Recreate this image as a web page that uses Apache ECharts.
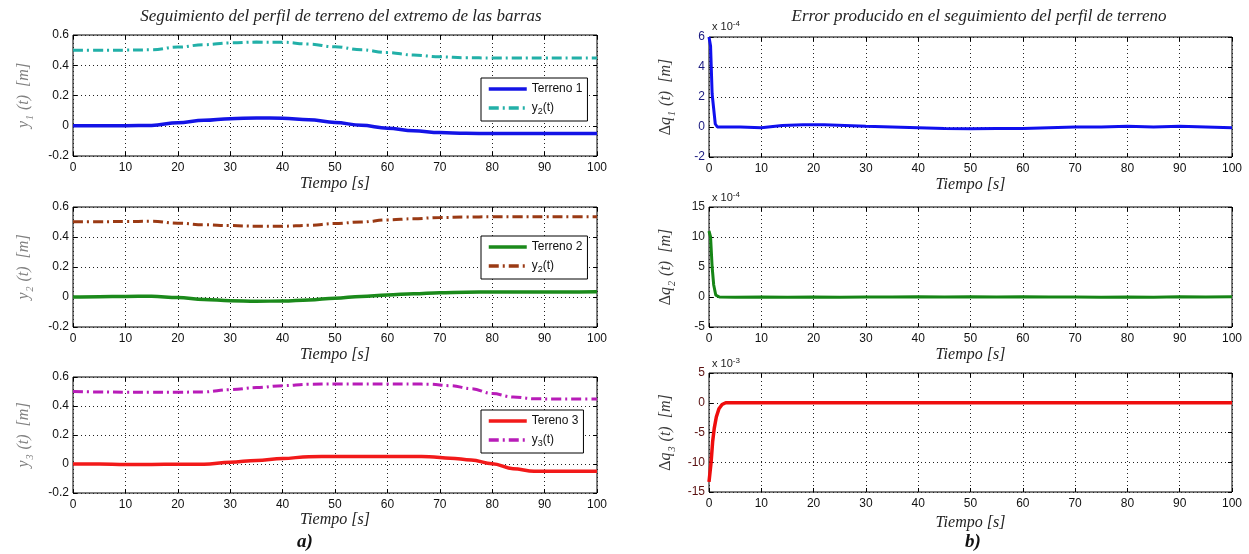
<!DOCTYPE html>
<html>
<head>
<meta charset="utf-8">
<script src="https://cdn.jsdelivr.net/npm/echarts/dist/echarts.min.js"></script>
<style>
  html, body { margin: 0; padding: 0; background: #fff; }
  #chart { width: 1249px; height: 554px; }
</style>
</head>
<body>
<div id="chart"></div>
<script>
// ---- Time samples [s] ----
const tA = [0, 5, 10, 15, 20, 25, 30, 35, 40, 45, 50, 55, 60, 65, 70, 75, 80, 85, 90, 95, 100];
const tC = [0, 5, 10, 15, 20, 25, 30, 35, 40, 45, 50, 55, 60, 65, 68, 72, 76, 80, 84, 88, 92, 96, 100];

// ---- Terrain profiles and bar-end trajectories [m] ----
const terreno1 = [0, 0, 0, 0.002, 0.02, 0.036, 0.047, 0.052, 0.05, 0.04, 0.022, 0.003, -0.016, -0.033, -0.045, -0.05, -0.052, -0.052, -0.052, -0.052, -0.052];
const y2Ref1   = [0.5, 0.5, 0.5, 0.502, 0.52, 0.536, 0.548, 0.553, 0.552, 0.54, 0.522, 0.502, 0.484, 0.467, 0.456, 0.45, 0.448, 0.448, 0.448, 0.448, 0.448];

const terreno2 = [0, 0.002, 0.004, 0.005, -0.004, -0.016, -0.025, -0.028, -0.027, -0.02, -0.008, 0.004, 0.014, 0.022, 0.029, 0.032, 0.034, 0.034, 0.034, 0.034, 0.035];
const y2Ref2   = [0.502, 0.502, 0.503, 0.505, 0.492, 0.482, 0.476, 0.472, 0.472, 0.478, 0.49, 0.5, 0.514, 0.522, 0.53, 0.533, 0.535, 0.535, 0.535, 0.535, 0.535];

const terreno3 = [0, 0, -0.003, -0.003, -0.002, -0.002, 0.012, 0.025, 0.038, 0.05, 0.052, 0.052, 0.052, 0.052, 0.05, 0.04, 0.028, 0.002, -0.032, -0.05, -0.05, -0.05, -0.05];
const y3Ref3   = [0.5, 0.497, 0.495, 0.495, 0.495, 0.497, 0.513, 0.527, 0.54, 0.55, 0.552, 0.552, 0.552, 0.552, 0.55, 0.54, 0.52, 0.486, 0.462, 0.45, 0.448, 0.448, 0.448];

// ---- Tracking errors (scaled: x1e-4, x1e-4, x1e-3) ----
const tQ1 = [0, 0.3, 0.6, 0.9, 1.2, 1.6, 3, 6, 10, 14, 18, 22, 26, 30, 35, 40, 45, 50, 55, 60, 65, 70, 75, 80, 85, 90, 95, 100];
const dq1 = [6, 5.4, 2.2, 1.2, 0.2, 0, 0, 0, -0.05, 0.1, 0.15, 0.15, 0.1, 0.05, 0, -0.05, -0.1, -0.12, -0.1, -0.1, -0.05, 0, 0, 0.05, 0, 0.05, 0, -0.05];

const tQ2 = [0, 0.3, 0.6, 0.9, 1.3, 2, 5, 10, 15, 20, 25, 30, 35, 40, 45, 50, 55, 60, 65, 70, 75, 80, 85, 90, 95, 100];
const dq2 = [11, 10, 5, 2, 0.3, 0, -0.05, 0, -0.05, 0, -0.05, 0, 0, 0.05, 0, 0.05, 0, 0.05, 0, 0, -0.05, 0, -0.05, 0.05, 0, 0.05];

const tQ3 = [0, 0.15, 0.4, 0.7, 1, 1.4, 1.9, 2.5, 3.2, 10, 20, 30, 40, 50, 60, 70, 80, 90, 100];
const dq3 = [-13.3, -13.3, -10, -6.5, -4.3, -2.4, -1, -0.3, 0, 0, 0, 0, 0, 0, 0, 0, 0, 0, 0];

// ---- Axis tick settings ----
const xTickStep = 10;
const yLeftRange = { min: -0.2, max: 0.6, interval: 0.2 };
const yRightRanges = [
  { min: -2, max: 6, interval: 2 },
  { min: -5, max: 15, interval: 5 },
  { min: -15, max: 5, interval: 5 }
];

// ---- Texts ----
const titleLeft = 'Seguimiento del perfil de terreno del extremo de las barras';
const titleRight = 'Error producido en el seguimiento del perfil de terreno';
const xName = 'Tiempo [s]';
const legendLabels = {
  'Terreno 1': 'Terreno 1',
  'y2a': '{n|y}{s|2}{n|(t)}',
  'Terreno 2': 'Terreno 2',
  'y2b': '{n|y}{s|2}{n|(t)}',
  'Tereno 3': 'Tereno 3',
  'y3c': '{n|y}{s|3}{n|(t)}'
};

const pair = (t, v) => t.map((x, i) => [x, v[i]]);

const SANS = 'Liberation Sans, Arial, sans-serif';
const SERIF = 'Liberation Serif, Times New Roman, serif';

// Panel frames
const grids = [
  { left: 73,  width: 524, top: 35,  height: 121 },
  { left: 73,  width: 524, top: 207, height: 120 },
  { left: 73,  width: 524, top: 377, height: 116 },
  { left: 709, width: 523, top: 37,  height: 120 },
  { left: 709, width: 523, top: 207, height: 120 },
  { left: 709, width: 523, top: 373, height: 119 }
].map(g => Object.assign({ show: true, borderColor: '#000', borderWidth: 1, backgroundColor: 'transparent' }, g));

const subRich = {
  i: { fontFamily: SERIF, fontStyle: 'italic', fontSize: 16, lineHeight: 22 },
  d: { fontFamily: SERIF, fontSize: 16, lineHeight: 22 },
  s: { fontFamily: SERIF, fontStyle: 'italic', fontSize: 10, lineHeight: 22, verticalAlign: 'bottom', padding: [0, 1, 0, 1] }
};

const yNames = [
  '{i|y}{s|1}{i| (t)  [m]}',
  '{i|y}{s|2}{i| (t)  [m]}',
  '{i|y}{s|3}{i| (t)  [m]}',
  '{d|Δ}{i|q}{s|1}{i| (t)  [m]}',
  '{d|Δ}{i|q}{s|2}{i| (t)  [m]}',
  '{d|Δ}{i|q}{s|3}{i| (t)  [m]}'
];
const yNameColors = ['#808080', '#808080', '#808080', '#3a3a3a', '#3a3a3a', '#3a3a3a'];
const yLabelColors = ['#111', '#111', '#111', '#1a1a80', '#222', '#5a1010'];
const xNameGaps = [20, 20, 19, 20, 20, 23];

const dotted = { type: [1, 3], color: '#222', width: 1 };

const xAxes = [], yAxes = [];
grids.forEach((g, k) => {
  const yr = k < 3 ? yLeftRange : yRightRanges[k - 3];
  xAxes.push({
    gridIndex: k, type: 'value', min: 0, max: 100, interval: xTickStep, position: 'bottom',
    axisLine: { show: false, onZero: false },
    axisTick: { inside: true, length: 4, lineStyle: { color: '#000' } },
    splitLine: { show: true, lineStyle: dotted },
    axisLabel: { fontFamily: SANS, fontSize: 12, color: '#111', margin: 6 },
    name: xName, nameLocation: 'middle', nameGap: xNameGaps[k],
    nameTextStyle: { fontFamily: SERIF, fontStyle: 'italic', fontSize: 16, color: '#222' }
  });
  xAxes.push({
    gridIndex: k, type: 'value', min: 0, max: 100, interval: xTickStep, position: 'top',
    axisLine: { show: false, onZero: false },
    axisTick: { inside: true, length: 4, lineStyle: { color: '#000' } },
    splitLine: { show: false }, axisLabel: { show: false }
  });
  yAxes.push({
    gridIndex: k, type: 'value', min: yr.min, max: yr.max, interval: yr.interval, position: 'left',
    axisLine: { show: false, onZero: false },
    axisTick: { inside: true, length: 4, lineStyle: { color: '#000' } },
    splitLine: { show: true, lineStyle: dotted },
    axisLabel: {
      fontFamily: SANS, fontSize: 12, color: yLabelColors[k], margin: 4,
      formatter: v => k < 3 ? String(+v.toFixed(1)) : String(Math.round(v))
    },
    name: yNames[k], nameLocation: 'middle', nameRotate: 90, nameGap: k < 3 ? 38 : 32,
    nameTextStyle: { color: yNameColors[k], rich: JSON.parse(JSON.stringify(subRich)) }
  });
  yAxes.push({
    gridIndex: k, type: 'value', min: yr.min, max: yr.max, interval: yr.interval, position: 'right',
    axisLine: { show: false, onZero: false },
    axisTick: { inside: true, length: 4, lineStyle: { color: '#000' } },
    splitLine: { show: false }, axisLabel: { show: false }
  });
});

const dashDot = [10, 4, 2, 4];
function line(name, k, data, color, width, type, smooth) {
  return {
    name, type: 'line', xAxisIndex: 2 * k, yAxisIndex: 2 * k, data,
    symbol: 'none', showSymbol: false, smooth: smooth, smoothMonotone: 'x',
    lineStyle: { color, width, type }, itemStyle: { color }, z: 3
  };
}

const series = [
  line('Terreno 1', 0, pair(tA, terreno1), '#1414e6', 3.5, 'solid', 0.4),
  line('y2a',       0, pair(tA, y2Ref1),   '#22b0a8', 3,   dashDot, 0.4),
  line('Terreno 2', 1, pair(tA, terreno2), '#1b8a1b', 3.5, 'solid', 0.4),
  line('y2b',       1, pair(tA, y2Ref2),   '#9a3a14', 3,   dashDot, 0.4),
  line('Tereno 3',  2, pair(tC, terreno3), '#f21a1a', 3.5, 'solid', 0.4),
  line('y3c',       2, pair(tC, y3Ref3),   '#b81cb8', 3,   dashDot, 0.4),
  line('dq1',       3, pair(tQ1, dq1),     '#1010ee', 3,   'solid', false),
  line('dq2',       4, pair(tQ2, dq2),     '#168516', 3,   'solid', false),
  line('dq3',       5, pair(tQ3, dq3),     '#ee0d0d', 3.5, 'solid', false)
];

function legendFor(names, top) {
  return {
    data: names, left: 481, top, orient: 'vertical', selectedMode: false,
    borderColor: '#000', borderWidth: 1, backgroundColor: '#fff',
    padding: [5, 5, 5, 6], itemGap: 7, itemWidth: 38, itemHeight: 12,
    itemStyle: { opacity: 0, borderWidth: 0 },
    lineStyle: { width: 3.5 },
    formatter: n => legendLabels[n],
    textStyle: {
      fontFamily: SANS, fontSize: 12, color: '#111',
      rich: {
        n: { fontFamily: SANS, fontSize: 12, color: '#111', lineHeight: 16 },
        s: { fontFamily: SANS, fontSize: 9, color: '#111', lineHeight: 16, verticalAlign: 'bottom' }
      }
    }
  };
}

const expRich = {
  b: { fontFamily: SANS, fontSize: 11, fill: '#222', lineHeight: 14 },
  e: { fontFamily: SANS, fontSize: 8, fill: '#222', lineHeight: 14, verticalAlign: 'top' }
};
function expLabel(exp, x, y) {
  return {
    type: 'text', left: x, top: y, z: 10,
    style: { text: '{b|x 10}{e|' + exp + '}', rich: expRich }
  };
}

const titleStyle = { fontFamily: SERIF, fontStyle: 'italic', fontWeight: 'normal', fontSize: 17, color: '#222' };
const tagStyle = { fontFamily: SERIF, fontStyle: 'italic', fontWeight: 'bold', fontSize: 19, color: '#111' };

const option = {
  animation: false,
  backgroundColor: '#fff',
  title: [
    { text: titleLeft, left: 336, top: 3, textAlign: 'center', textStyle: titleStyle },
    { text: titleRight, left: 974, top: 3, textAlign: 'center', textStyle: titleStyle },
    { text: 'a)', left: 300, top: 528, textAlign: 'center', textStyle: tagStyle },
    { text: 'b)', left: 968, top: 528, textAlign: 'center', textStyle: tagStyle }
  ],
  legend: [
    legendFor(['Terreno 1', 'y2a'], 78),
    legendFor(['Terreno 2', 'y2b'], 236),
    legendFor(['Tereno 3', 'y3c'], 410)
  ],
  grid: grids,
  xAxis: xAxes,
  yAxis: yAxes,
  series,
  graphic: [
    expLabel('-4', 712, 20),
    expLabel('-4', 712, 191),
    expLabel('-3', 712, 357)
  ]
};

const chart = echarts.init(document.getElementById('chart'), null, { renderer: 'canvas' });
chart.setOption(option);
</script>
</body>
</html>
